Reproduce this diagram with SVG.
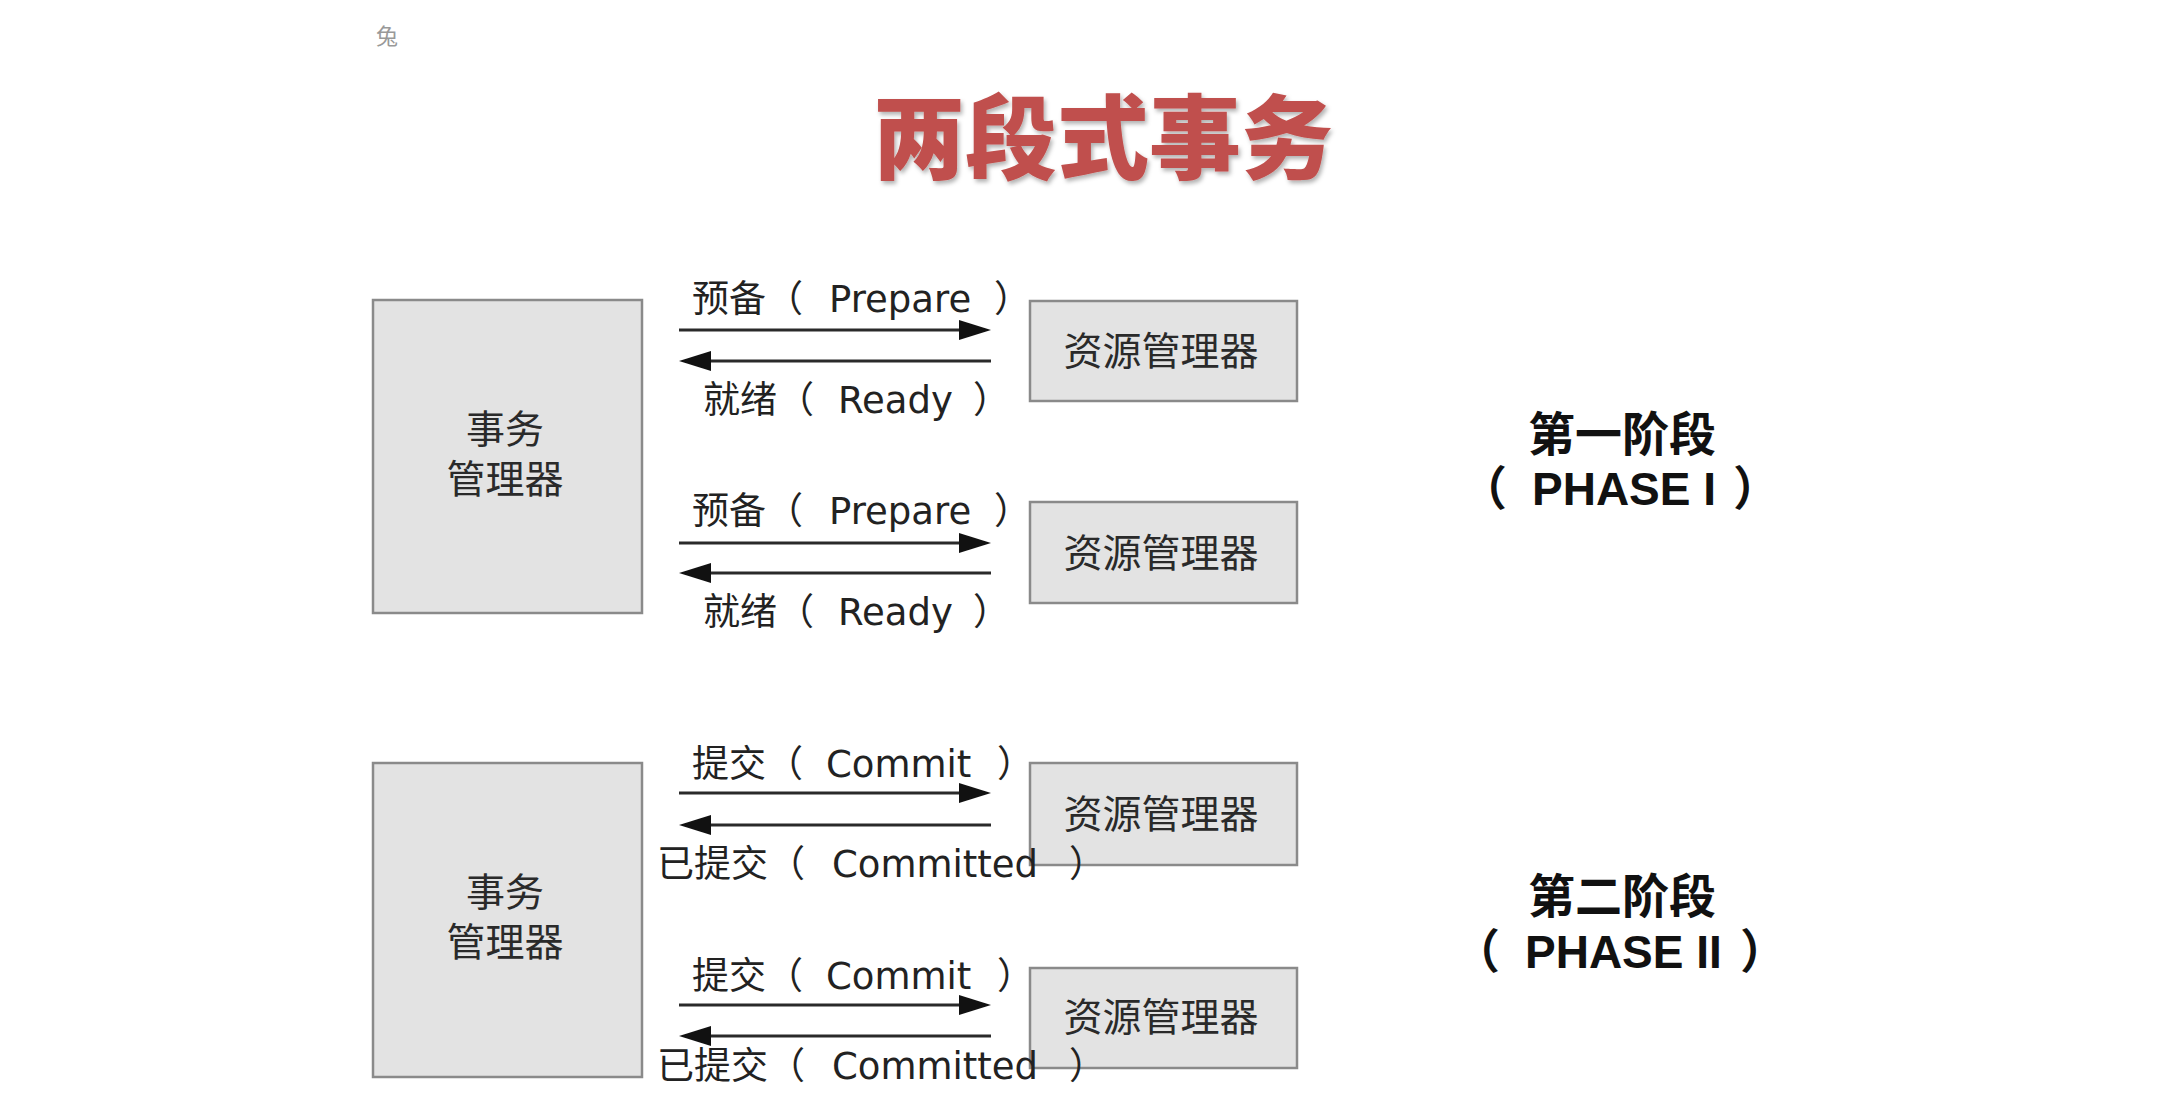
<svg xmlns="http://www.w3.org/2000/svg" width="2184" height="1112" viewBox="0 0 2184 1112">
<style>
.box{fill:#e3e3e3;stroke:#8a8a8a;stroke-width:2.5}
.nt{font-family:"Noto Sans CJK SC","Liberation Sans",sans-serif;font-size:39px;fill:#2a2a2a;text-anchor:middle}
.lb{font-family:"Noto Sans CJK SC","DejaVu Sans",sans-serif;font-size:37px;fill:#222}
.en{font-family:"DejaVu Sans","Noto Sans CJK SC",sans-serif}
.ph{font-family:"Noto Sans CJK SC","Liberation Sans",sans-serif;font-size:47px;font-weight:bold;fill:#111}
.pe{font-family:"Liberation Sans","Noto Sans CJK SC",sans-serif;font-size:46px}
.ar{stroke:#2a2a2a;stroke-width:3;fill:none;marker-end:url(#ah)}
</style>
<defs>
<marker id="ah" viewBox="0 0 32 20" refX="26" refY="10" markerWidth="32" markerHeight="20" markerUnits="userSpaceOnUse" orient="auto">
<path d="M0,0 L32,10 L0,20 Z" fill="#111"/>
</marker>
<filter id="sh" x="-5%" y="-10%" width="110%" height="130%">
<feDropShadow dx="2" dy="3" stdDeviation="2" flood-color="#000" flood-opacity="0.3"/>
</filter>
</defs>
<rect width="2184" height="1112" fill="#fff"/>
<text x="376" y="44" font-family="Noto Sans CJK SC,sans-serif" font-size="22" fill="#999">兔</text>
<text id="title" x="1103" y="172" text-anchor="middle" font-family="Noto Sans CJK SC,sans-serif" font-size="92" font-weight="900" fill="#c0504d" filter="url(#sh)">两段式事务</text>

<g id="tm1"><rect class="box" x="373" y="300" width="269" height="313"/><text class="nt" x="505" y="443">事务</text><text class="nt" x="505" y="493">管理器</text></g>
<g id="rm1"><rect class="box" x="1030" y="301" width="267" height="100"/><text class="nt" x="1161" y="365">资源管理器</text></g>
<g id="rm2"><rect class="box" x="1030" y="502" width="267" height="101"/><text class="nt" x="1161" y="567">资源管理器</text></g>
<g id="tm2"><rect class="box" x="373" y="763" width="269" height="314"/><text class="nt" x="505" y="906">事务</text><text class="nt" x="505" y="956">管理器</text></g>
<g id="rm3"><rect class="box" x="1030" y="763" width="267" height="102"/><text class="nt" x="1161" y="828">资源管理器</text></g>
<g id="rm4"><rect class="box" x="1030" y="968" width="267" height="100"/><text class="nt" x="1161" y="1031">资源管理器</text></g>

<g id="connectors">
<line class="ar" x1="679" y1="330" x2="985" y2="330"/>
<line class="ar" x1="991" y1="361" x2="685" y2="361"/>
<line class="ar" x1="679" y1="543" x2="985" y2="543"/>
<line class="ar" x1="991" y1="573" x2="685" y2="573"/>
<line class="ar" x1="679" y1="793" x2="985" y2="793"/>
<line class="ar" x1="991" y1="825" x2="685" y2="825"/>
<line class="ar" x1="679" y1="1005" x2="985" y2="1005"/>
<line class="ar" x1="991" y1="1036" x2="685" y2="1036"/>
</g>

<g id="labels">
<text class="lb" x="692" y="312">预备（<tspan class="en" x="829">Prepare</tspan><tspan x="994">）</tspan></text>
<text class="lb" x="703" y="413">就绪（<tspan class="en" x="838">Ready</tspan><tspan x="973">）</tspan></text>
<text class="lb" x="692" y="524">预备（<tspan class="en" x="829">Prepare</tspan><tspan x="994">）</tspan></text>
<text class="lb" x="703" y="625">就绪（<tspan class="en" x="838">Ready</tspan><tspan x="973">）</tspan></text>
<text class="lb" x="692" y="777">提交（<tspan class="en" x="826">Commit</tspan><tspan x="997">）</tspan></text>
<text class="lb" x="657" y="877">已提交（<tspan class="en" x="832">Committed</tspan><tspan x="1069">）</tspan></text>
<text class="lb" x="692" y="989">提交（<tspan class="en" x="826">Commit</tspan><tspan x="997">）</tspan></text>
<text class="lb" x="657" y="1079">已提交（<tspan class="en" x="832">Committed</tspan><tspan x="1069">）</tspan></text>
</g>

<g id="phase1"><text class="ph" x="1622" y="451" text-anchor="middle">第一阶段</text><text class="ph" x="1460" y="505">（<tspan class="pe" x="1532">PHASE I</tspan><tspan x="1733">）</tspan></text></g>
<g id="phase2"><text class="ph" x="1622" y="913" text-anchor="middle">第二阶段</text><text class="ph" x="1453" y="968">（<tspan class="pe" x="1525">PHASE II</tspan><tspan x="1740">）</tspan></text></g>
</svg>
